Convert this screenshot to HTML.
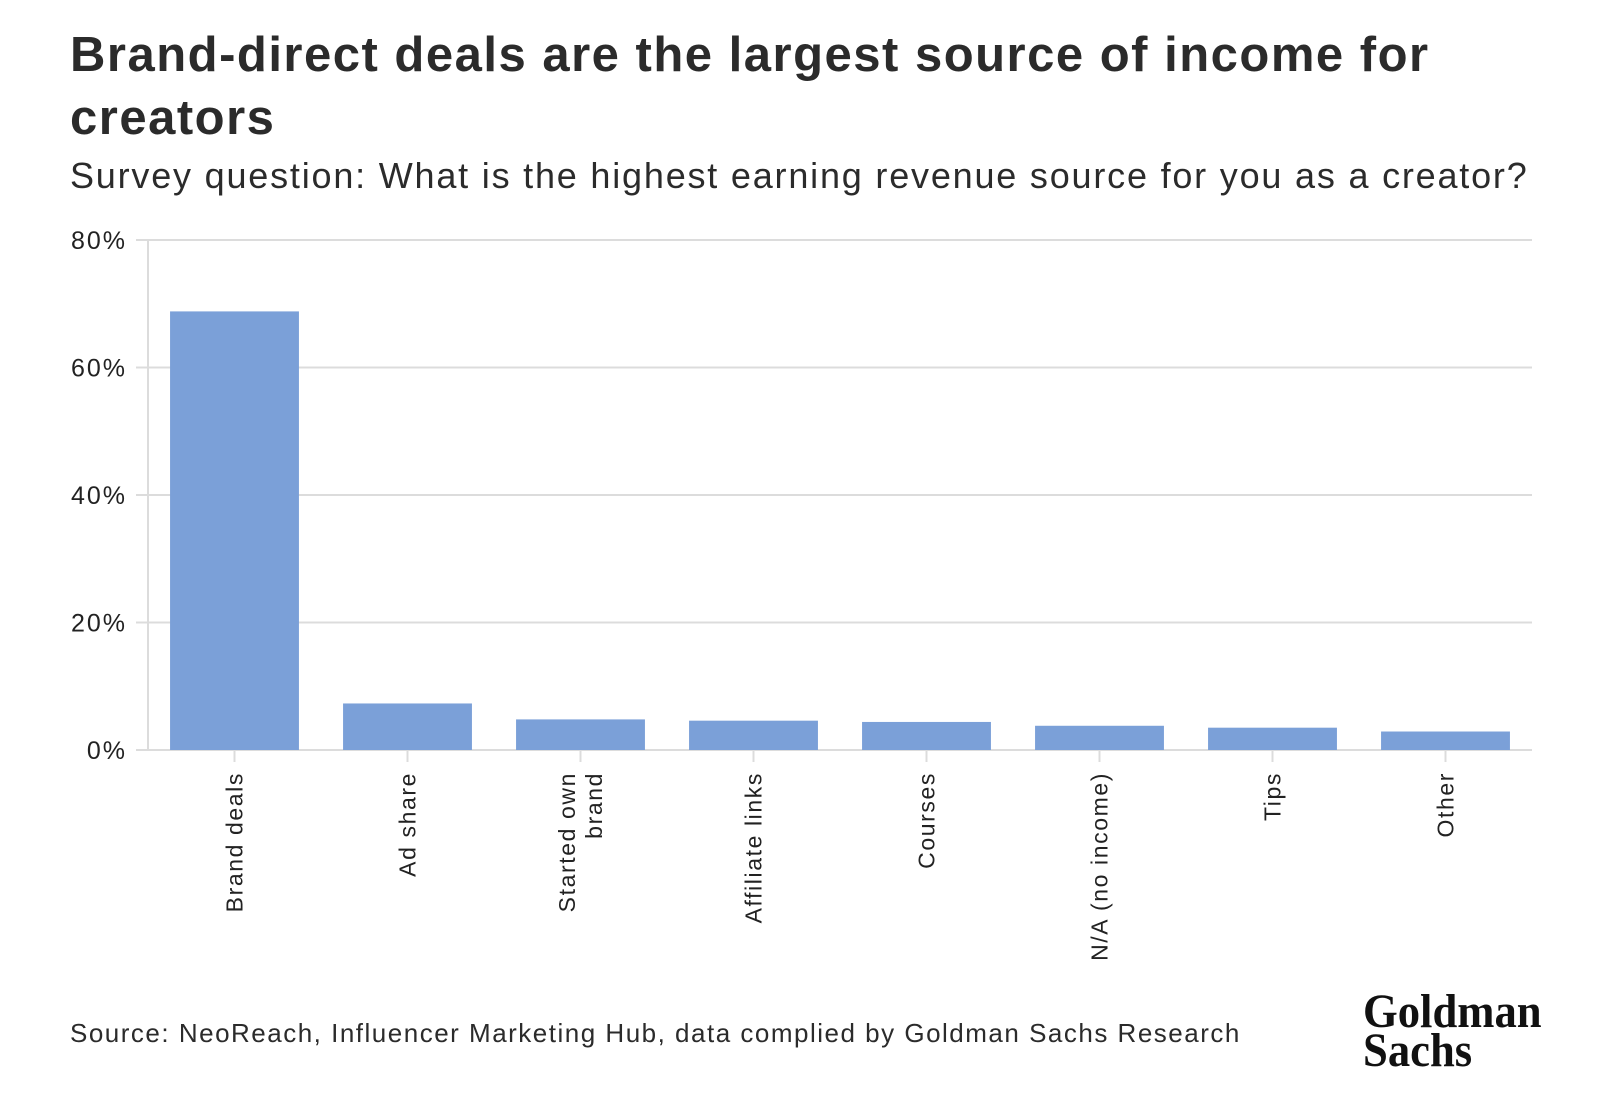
<!DOCTYPE html>
<html><head><meta charset="utf-8">
<style>
html,body{margin:0;padding:0;background:#fff;}
body{width:1600px;height:1114px;position:relative;overflow:hidden;font-family:"Liberation Sans",sans-serif;color:#2b2b2b;}
#title{position:absolute;left:70px;top:24px;font-size:49px;font-weight:bold;line-height:63px;width:1500px;letter-spacing:1.5px;}
#subtitle{position:absolute;left:70px;top:154px;font-size:36px;line-height:44px;letter-spacing:1.8px;white-space:nowrap;}
#source{position:absolute;left:70px;top:1018px;font-size:26px;letter-spacing:1.5px;white-space:nowrap;}
#logo{position:absolute;left:1363px;top:992px;font-family:"Liberation Serif",serif;font-weight:bold;font-size:48px;line-height:39px;color:#111;transform:scaleX(0.93);transform-origin:left top;}
svg{position:absolute;left:0;top:0;}
</style></head><body>
<div id="title">Brand-direct deals are the largest source of income for creators</div>
<div id="subtitle">Survey question: What is the highest earning revenue source for you as a creator?</div>
<svg id="chart" width="1600" height="1114"></svg>
<div id="source">Source: NeoReach, Influencer Marketing Hub, data complied by Goldman Sachs Research</div>
<div id="logo">Goldman<br>Sachs</div>
<script>
const categories=[["Brand deals"],["Ad share"],["Started own","brand"],["Affiliate links"],["Courses"],["N/A (no income)"],["Tips"],["Other"]];
const values=[68.8,7.3,4.8,4.6,4.4,3.8,3.5,2.9];
const yTicks=[0,20,40,60,80];
const yTickLabels=["0%","20%","40%","60%","80%"];
const NS="http://www.w3.org/2000/svg";
const svg=document.getElementById('chart');
const x0=148,x1=1532,yTop=240,yBot=750,yMax=80;
const band=(x1-x0)/categories.length;
const y=v=>yBot-(v/yMax)*(yBot-yTop);
const xc=i=>x0+band*(i+0.5);
function mk(t,a){const e=document.createElementNS(NS,t);for(const k in a)e.setAttribute(k,a[k]);svg.appendChild(e);return e;}
yTicks.forEach((t,i)=>{
  const g=mk('line',{x1:136,x2:x1,y1:y(t),y2:y(t),stroke:'#dcdcdc','stroke-width':2});
  
  
  const l=mk('text',{x:127,y:y(t)+9,'text-anchor':'end','font-size':25,fill:'#222','letter-spacing':2,'font-family':'Liberation Sans, sans-serif'});
  l.textContent=yTickLabels[i];
  
  
});
const ax=mk('line',{x1:x0,x2:x0,y1:yTop,y2:yBot,stroke:'#dcdcdc','stroke-width':2});


values.forEach((v,i)=>{
  const bw=band*0.745;
  const r=mk('rect',{x:xc(i)-bw/2,y:y(v),width:bw,height:yBot-y(v),fill:'#7ba0d8'});
  
  
  const tk=mk('line',{x1:xc(i),x2:xc(i),y1:yBot,y2:yBot+12,stroke:'#dcdcdc','stroke-width':2});
  
  
  const lines=categories[i];
  lines.forEach((ln,j)=>{
    const off=(j-(lines.length-1)/2)*27;
    const cx=xc(i)+8+off, cy=772;
    const t=mk('text',{x:cx,y:cy,'text-anchor':'end','font-size':23,fill:'#222','letter-spacing':1.6,'font-family':'Liberation Sans, sans-serif',transform:`rotate(-90 ${cx} ${cy})`});
    t.textContent=ln;
    
    
  });
});
</script>
</body></html>
